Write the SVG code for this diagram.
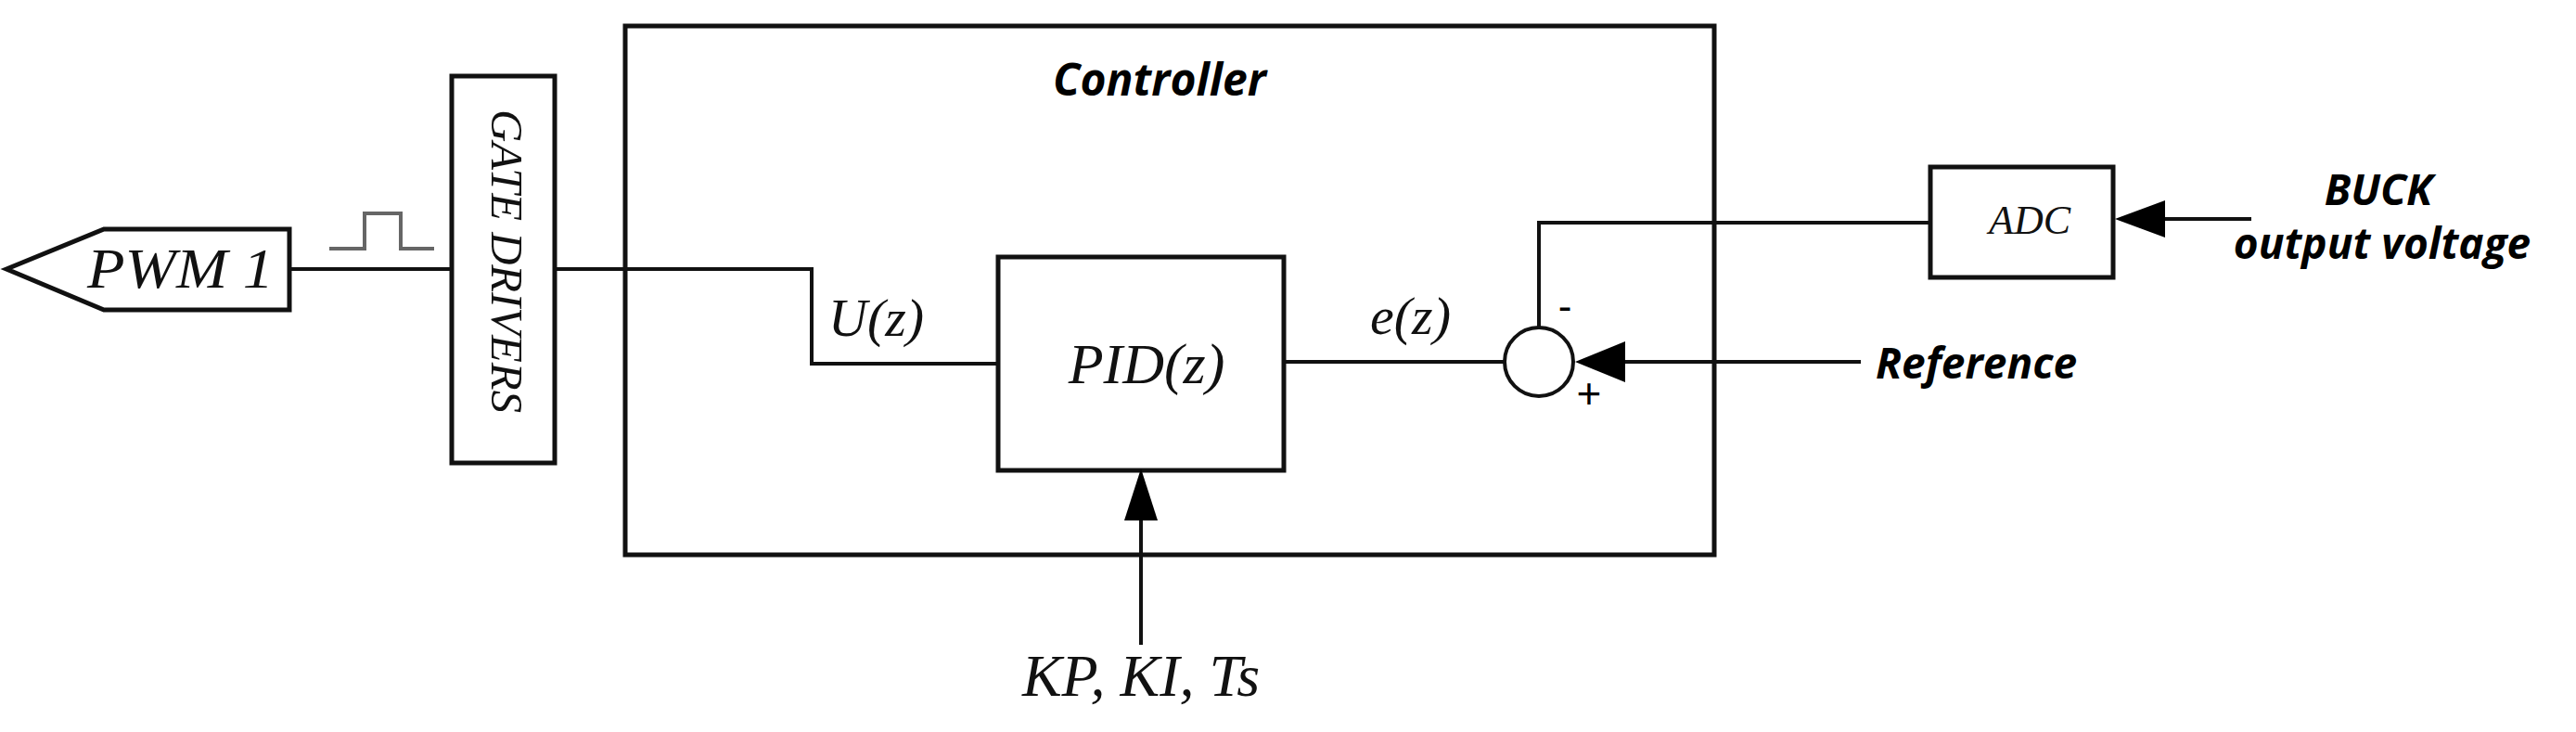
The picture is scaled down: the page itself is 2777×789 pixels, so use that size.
<svg xmlns="http://www.w3.org/2000/svg" width="2777" height="789" viewBox="0 0 2777 789">
<style>
.b{fill:none;stroke:#111;stroke-width:5}
.l{fill:none;stroke:#111;stroke-width:4}
.m{font-family:"Liberation Serif",serif;font-style:italic;fill:#111}
.s{font-family:"Open Sans","Liberation Sans",sans-serif;font-style:italic;font-weight:bold;fill:#000}
</style>
<rect width="2777" height="789" fill="#fff"/>
<g id="controller"><rect class="b" x="674" y="28" width="1174" height="570"/><text class="s" x="1250" y="103" font-size="48" text-anchor="middle">Controller</text></g>
<g id="pwm"><path class="b" d="M7,290L112,247H312V334H112Z"/><text class="m" x="94" y="310" font-size="62" textLength="201" lengthAdjust="spacingAndGlyphs">PWM 1</text></g>
<g id="gate"><rect class="b" x="487" y="82" width="111" height="417"/><text class="m" x="118" y="-530" transform="rotate(90)" font-size="48" textLength="327" lengthAdjust="spacingAndGlyphs">GATE DRIVERS</text></g>
<g id="pid"><rect class="b" x="1076" y="277" width="308" height="230"/><text class="m" x="1236" y="413" font-size="62" text-anchor="middle">PID(z)</text></g>
<g id="sum"><circle class="l" cx="1659" cy="390" r="37"/><text x="1687" y="345" font-family="Liberation Sans,sans-serif" font-size="44" text-anchor="middle">-</text><text x="1713" y="440" font-family="Liberation Sans,sans-serif" font-size="46" text-anchor="middle">+</text></g>
<g id="adc"><rect class="b" x="2081" y="180" width="197" height="119"/><text class="m" x="2188" y="252" font-size="44" text-anchor="middle">ADC</text></g>
<g id="labels">
<text class="m" x="893" y="362" font-size="58">U(z)</text>
<text class="m" x="1477" y="360" font-size="58">e(z)</text>
<text class="m" x="1230" y="750" font-size="64" text-anchor="middle">KP, KI, Ts</text>
<text class="s" x="2022" y="408" font-size="46">Reference</text>
<text class="s" x="2564" y="221" font-size="46" text-anchor="middle">BUCK</text>
<text class="s" x="2568" y="279" font-size="46" text-anchor="middle">output voltage</text>
</g>
<g id="connectors">
<path class="l" d="M312,290H487"/>
<path d="M355,268H393V230H432V268H468" fill="none" stroke="#666" stroke-width="4"/>
<path class="l" d="M598,290H875V392H1076"/>
<path class="l" d="M1384,390H1622"/>
<path class="l" d="M1659,353V240H2081"/>
<path class="l" d="M1230,695V561"/><path d="M1212,561L1230,505L1248,561Z" fill="#000"/>
<path class="l" d="M2427,236H2334"/><path d="M2334,216L2280,236L2334,256Z" fill="#000"/>
<path class="l" d="M2006,390H1750"/><path d="M1752,368L1698,390L1752,412Z" fill="#000"/>
</g>
</svg>
